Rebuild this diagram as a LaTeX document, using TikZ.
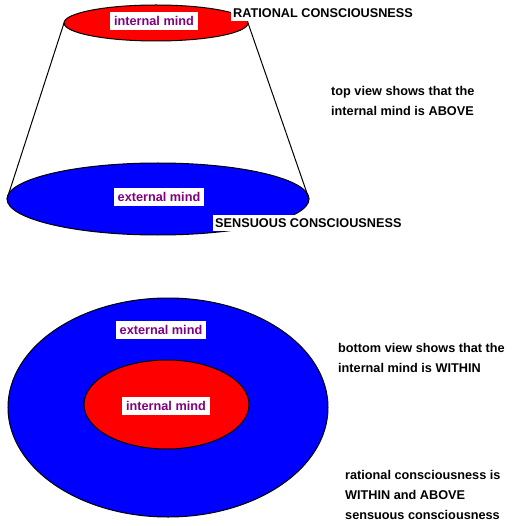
\documentclass[tikz,border=0pt]{standalone}
\usepackage{fontspec}
\setmainfont{Liberation Sans}
\usepackage{tikz}
\usetikzlibrary{shapes.geometric}
\definecolor{mindpurple}{HTML}{800080}
\tikzset
{
  disc/.style={ellipse,draw=black,line width=1pt,inner sep=0pt,outer sep=0pt},
  mindlabel/.style={fill=white,text=mindpurple,font=\bfseries\fontsize{12.7}{14}\selectfont,inner xsep=4pt,inner ysep=4pt},
  levellabel/.style={fill=white,text=black,font=\bfseries\fontsize{12.7}{14}\selectfont,inner xsep=2pt,inner ysep=4pt},
  remark/.style={align=left,anchor=north west,inner sep=0pt,font=\bfseries\fontsize{12.7}{20}\selectfont}
}

\begin{document}
\begin{tikzpicture}[x=1pt,y=-1pt]
        \useasboundingbox[fill=white] (0,0) rectangle (512,526);

        % Top view: the cone
        \node[disc,fill=red,minimum width=184pt,minimum height=36pt] (rational) at (156,23) {};
        \node[disc,fill=blue,minimum width=302pt,minimum height=72pt] (sensuous) at (158,199) {};
        \draw[line width=1pt] (rational.west) -- (sensuous.west);
        \draw[line width=1pt] (rational.east) -- (sensuous.east);

        \node[mindlabel] (topinternal) at (154,21) {internal mind};
        \node[mindlabel] (topexternal) at (159,197) {external mind};
        \node[levellabel,anchor=west] (ratlabel) at (231,13) {RATIONAL CONSCIOUSNESS};
        \node[levellabel,anchor=west] (senslabel) at (213,223) {SENSUOUS CONSCIOUSNESS};
        \node[remark] (topnote) at (331,86) {top view shows that the\\internal mind is ABOVE};

        % Bottom view: nested discs
        \node[disc,fill=blue,minimum width=320pt,minimum height=219pt] (outer) at (168,407.5) {};
        \node[disc,fill=red,minimum width=165pt,minimum height=89pt] (inner) at (166.5,404.5) {};

        \node[mindlabel] (botexternal) at (161,330) {external mind};
        \node[mindlabel] (botinternal) at (166,406) {internal mind};
        \node[remark] (botnote) at (338,343) {bottom view shows that the\\internal mind is WITHIN};
        \node[remark] (finalnote) at (345,470) {rational consciousness is\\WITHIN and ABOVE\\sensuous consciousness};
    \end{tikzpicture}
\end{document}
